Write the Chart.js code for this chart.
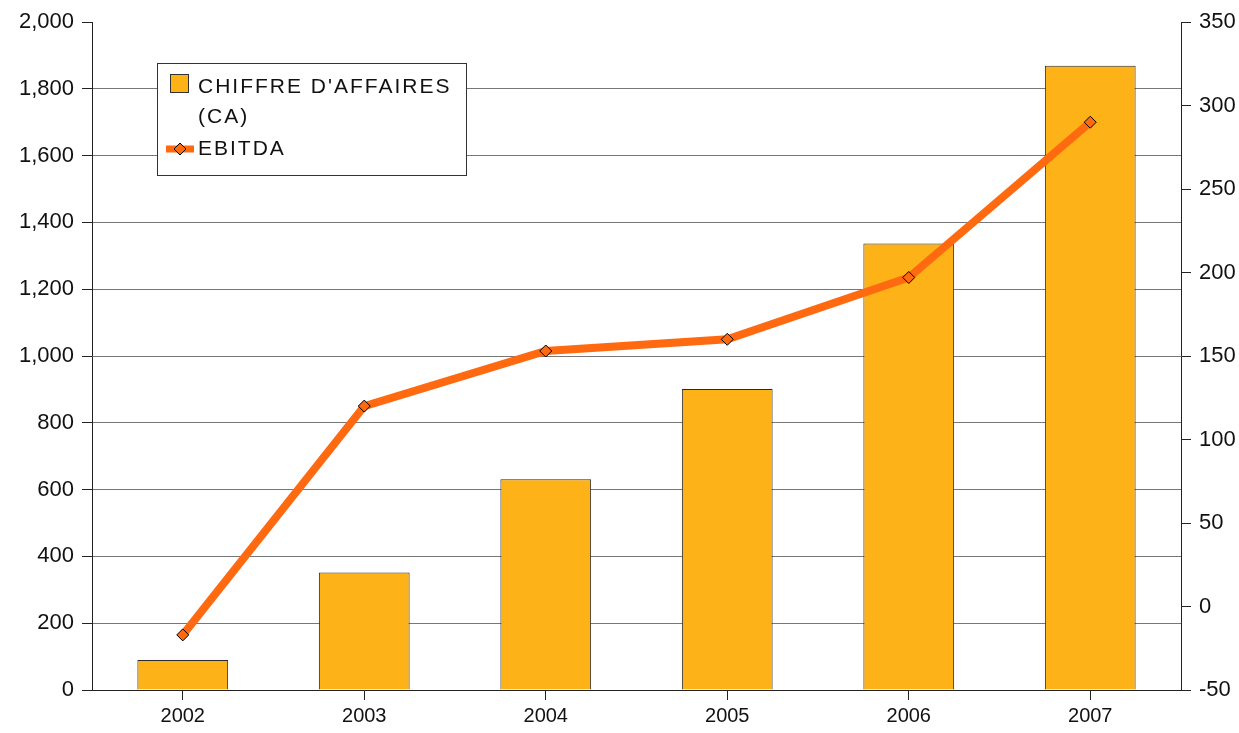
<!DOCTYPE html>
<html>
<head>
<meta charset="utf-8">
<script src="https://cdn.jsdelivr.net/npm/chart.js@4.4.0/dist/chart.umd.min.js"></script>
<style>
  html, body { margin: 0; padding: 0; background: #fff; }
  #wrap { width: 1239px; height: 733px; }
</style>
</head>
<body>
<div id="wrap"><canvas id="graf"></canvas></div>
<script>
// Données
var annees = ['2002', '2003', '2004', '2005', '2006', '2007'];
var chiffreAffaires = [90, 352, 631, 901, 1337, 1869];
var ebitda = [-17, 120, 153, 160, 197, 290];
var labelCA = "CHIFFRE D'AFFAIRES (CA)";
var labelEbitda = 'EBITDA';

var couleurBarre = '#FDB218';
var couleurLigne = '#FF6A10';
var police = '"Liberation Sans", Arial, sans-serif';

// Légende dessinée à la main (cadre blanc en haut à gauche)
var legendePerso = {
    id: 'legendePerso',
    afterDraw: function(chart) {
        var ctx = chart.ctx;
        var x = 157, y = 63, w = 309, h = 112;
        var dsLigne = chart.data.datasets[0];
        var dsBarre = chart.data.datasets[1];
        ctx.save();
        ctx.fillStyle = '#fff';
        ctx.fillRect(x, y, w, h);
        ctx.strokeStyle = '#333';
        ctx.lineWidth = 1;
        ctx.strokeRect(x + 0.5, y + 0.5, w, h);

        // carré de la série barres
        ctx.fillStyle = couleurBarre;
        ctx.fillRect(170, 74, 19, 19);
        ctx.strokeStyle = '#333';
        ctx.strokeRect(170.5, 74.5, 18, 18);

        ctx.font = '21px ' + police;
        ctx.fillStyle = '#111';
        ctx.textBaseline = 'middle';
        if ('letterSpacing' in ctx) ctx.letterSpacing = '2px';
        var mots = dsBarre.label.split(' ');
        ctx.fillText(mots.slice(0, 2).join(' '), 198, 87);
        ctx.fillText(mots.slice(2).join(' '), 198, 117);
        ctx.fillText(dsLigne.label, 198, 149);
        if ('letterSpacing' in ctx) ctx.letterSpacing = '0px';

        // trait + losange de la série ligne
        ctx.strokeStyle = couleurLigne;
        ctx.lineWidth = 7;
        ctx.beginPath();
        ctx.moveTo(166, 149);
        ctx.lineTo(194, 149);
        ctx.stroke();
        ctx.fillStyle = couleurLigne;
        ctx.strokeStyle = '#000';
        ctx.lineWidth = 1;
        ctx.beginPath();
        ctx.moveTo(180, 143);
        ctx.lineTo(186, 149);
        ctx.lineTo(180, 155);
        ctx.lineTo(174, 149);
        ctx.closePath();
        ctx.fill();
        ctx.stroke();
        ctx.restore();
    }
};

var ctx = document.getElementById('graf').getContext('2d');
new Chart(ctx, {
    type: 'bar',
    data: {
        labels: annees,
        datasets: [
            {
                type: 'line',
                label: labelEbitda,
                data: ebitda,
                yAxisID: 'y1',
                borderColor: couleurLigne,
                borderWidth: 8,
                backgroundColor: couleurLigne,
                pointStyle: 'rectRot',
                pointRadius: 6,
                pointBorderColor: '#000',
                pointBorderWidth: 1,
                pointBackgroundColor: couleurLigne,
                tension: 0,
                order: 0
            },
            {
                type: 'bar',
                label: labelCA,
                data: chiffreAffaires,
                yAxisID: 'y',
                backgroundColor: couleurBarre,
                borderColor: '#2a2a2a',
                borderWidth: 1,
                categoryPercentage: 1,
                barPercentage: 0.5,
                order: 1
            }
        ]
    },
    options: {
        responsive: true,
        maintainAspectRatio: false,
        animation: false,
        layout: { padding: { top: 22, left: 0, right: 0, bottom: 0 } },
        plugins: {
            legend: { display: false },
            tooltip: { enabled: false }
        },
        scales: {
            x: {
                grid: { display: true, drawOnChartArea: false, offset: false, tickLength: 10, tickColor: '#222' },
                border: { display: true, color: '#222', width: 1 },
                ticks: { color: '#111', font: { family: police, size: 20 }, padding: 4 },
                afterFit: function(s) { s.height = 43; }
            },
            y: {
                position: 'left',
                min: 0,
                max: 2000,
                ticks: {
                    stepSize: 200,
                    color: '#111',
                    font: { family: police, size: 22 },
                    padding: 8,
                    callback: function(v) { return v.toLocaleString('en-US'); }
                },
                grid: {
                    color: function(c) { return c.tick && c.tick.value === 2000 ? 'rgba(0,0,0,0)' : '#777'; },
                    tickColor: '#222',
                    tickLength: 10
                },
                border: { display: true, color: '#222', width: 1 },
                afterFit: function(s) { s.width = 92; }
            },
            y1: {
                position: 'right',
                min: -50,
                max: 350,
                ticks: {
                    stepSize: 50,
                    color: '#111',
                    font: { family: police, size: 22 },
                    padding: 8
                },
                grid: { drawOnChartArea: false, tickColor: '#222', tickLength: 10 },
                border: { display: true, color: '#222', width: 1 },
                afterFit: function(s) { s.width = 58; }
            }
        }
    },
    plugins: [legendePerso]
});
</script>
</body>
</html>
